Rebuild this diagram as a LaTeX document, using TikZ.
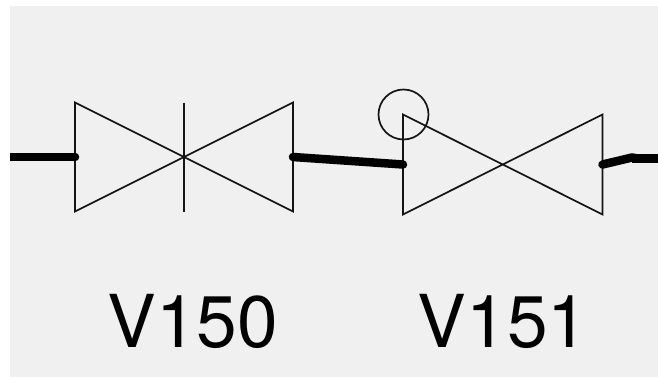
\documentclass[tikz,border=0pt]{standalone}
\usepackage{fontspec}
\setmainfont{TeX Gyre Heros}
\begin{document}
\begin{tikzpicture}[x=1pt,y=-1pt,
  valve/.style={draw=black!92,line width=1.7pt,line join=miter},
  pipe/.style={draw=black,line width=8.5pt,line cap=round,line join=round},
  pipeedge/.style={draw=black,line width=8.5pt,line join=round},
  tag/.style={inner sep=0pt,font=\fontsize{73}{73}\selectfont,text=black}]
\useasboundingbox (0,0) rectangle (658,378);
\fill[white] (0,0) rectangle (658,378);
\fill[black!6] (10,6) rectangle (658,377);
% V150
\coordinate (a1) at (75,102.5);
\coordinate (a2) at (75,211.5);
\coordinate (a3) at (293,102.5);
\coordinate (a4) at (293,211.5);
\coordinate (ac1) at (184,102.5);
\coordinate (ac2) at (184,212);
\coordinate (al) at (75,157);
\coordinate (ar) at (293,157);
\draw[valve] (a1) -- (a4) -- (a3) -- (a2) -- cycle;
\draw[valve] (ac1) -- (ac2);
% V151
\coordinate (b1) at (403,114.5);
\coordinate (b2) at (403,214.5);
\coordinate (b3) at (602.5,114.5);
\coordinate (b4) at (602.5,214.5);
\coordinate (bl) at (403,164.5);
\coordinate (br) at (602.5,164.5);
\coordinate (bk) at (632,157.5);
\coordinate (bk2) at (635,158);
\coordinate (w0) at (10,157);
\coordinate (e0) at (658,158.5);
\coordinate (e1) at (632,158.5);
\coordinate (al0) at (74,157);
\draw[valve] (b1) -- (b4) -- (b3) -- (b2) -- cycle;
\node[circle,draw=black!92,line width=1.7pt,minimum size=50pt,inner sep=0pt] (handle) at (403.5,114.5) {};
% pipes
\draw[pipe] (ar) -- (bl);
\draw[pipe] (br) -- (bk) -- (bk2);
\draw[pipeedge] (w0) -- (al0);
\fill (al) circle (4.25pt);
\draw[pipeedge] (e1) -- (e0);
% labels
\node[tag,anchor=base] (v150) at (192.7,347) {V150};
\node[tag,anchor=base] (v151) at (503,347) {V151};
\end{tikzpicture}
\end{document}
